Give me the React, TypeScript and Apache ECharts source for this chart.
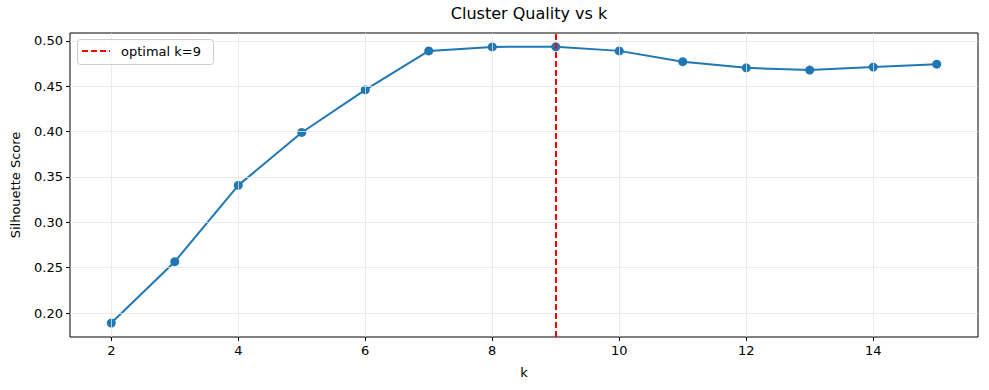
import React, { useEffect, useRef } from "react";
import * as echarts from "echarts";

const kValues = [2, 3, 4, 5, 6, 7, 8, 9, 10, 11, 12, 13, 14, 15];
const silhouette = [0.189, 0.2566, 0.3407, 0.399, 0.446, 0.4888, 0.4933, 0.4934, 0.4889, 0.477, 0.4702, 0.4678, 0.4711, 0.4742];
const xTicks = [2, 4, 6, 8, 10, 12, 14];
const yTicks = [0.2, 0.25, 0.3, 0.35, 0.4, 0.45, 0.5];
const optimalK = 9;
const titleText = "Cluster Quality vs k";
const legendText = "optimal k=9";

const FONT = "DejaVu Sans";

export default function App() {
  const ref = useRef<HTMLDivElement>(null);
  useEffect(() => {
    if (!ref.current) return;
    const chart = echarts.init(ref.current, null, { renderer: "svg" });
    const gridColor = "#e6e6e6";
    chart.setOption({
      animation: false,
      backgroundColor: "#fff",
      textStyle: { fontFamily: FONT },
      title: {
        text: titleText,
        left: 524,
        textAlign: "center",
        top: 0,
        textStyle: { fontFamily: FONT, fontSize: 16, fontWeight: "normal", color: "#000" },
      },
      grid: {
        left: 70,
        right: 11,
        top: 33,
        bottom: 53,
        show: true,
        borderColor: "#000",
        borderWidth: 1,
        backgroundColor: "transparent",
        containLabel: false,
        outerBoundsMode: "none",
      },
      xAxis: {
        type: "value",
        min: 1.35,
        max: 15.65,
        name: "k",
        nameLocation: "middle",
        nameGap: 29,
        nameTextStyle: { fontFamily: FONT, fontSize: 13, color: "#000" },
        axisLine: { show: false },
        splitLine: { show: false },
        axisTick: { show: true, customValues: xTicks, length: 4, lineStyle: { color: "#000" } },
        axisLabel: { customValues: xTicks, fontFamily: FONT, fontSize: 13, color: "#000", margin: 7 },
      },
      yAxis: {
        type: "value",
        min: 0.1736,
        max: 0.5086,
        name: "Silhouette Score",
        nameLocation: "middle",
        nameGap: 48,
        nameTextStyle: { fontFamily: FONT, fontSize: 13, color: "#000" },
        axisLine: { show: false },
        splitLine: { show: false },
        axisTick: { show: true, customValues: yTicks, length: 4, lineStyle: { color: "#000" } },
        axisLabel: {
          customValues: yTicks,
          fontFamily: FONT,
          fontSize: 13,
          color: "#000",
          margin: 7,
          formatter: (v: number) => v.toFixed(2),
        },
      },
      series: [
        {
          type: "line",
          name: "grid",
          data: [],
          silent: true,
          z: 0,
          markLine: {
            silent: true,
            symbol: "none",
            label: { show: false },
            lineStyle: { color: gridColor, type: "solid", width: 0.8 },
            data: [
              ...xTicks.map((x) => ({ xAxis: x })),
              ...yTicks.map((y) => ({ yAxis: y })),
            ],
          },
        },
        {
          type: "line",
          name: "silhouette",
          data: kValues.map((k, i) => [k, silhouette[i]]),
          symbol: "circle",
          symbolSize: 9,
          showSymbol: true,
          itemStyle: { color: "#1f77b4", borderWidth: 0 },
          lineStyle: { color: "#1f77b4", width: 2 },
          z: 3,
        },
        {
          type: "line",
          name: legendText,
          data: [],
          z: 4,
          markLine: {
            silent: true,
            symbol: "none",
            label: { show: false },
            lineStyle: { color: "#ff0000", type: [6, 3], width: 2 },
            data: [{ xAxis: optimalK }],
          },
        },
      ],
      graphic: [
        {
          type: "rect",
          shape: { x: 77.5, y: 39.5, width: 136, height: 25, r: 3 },
          style: { fill: "rgba(255,255,255,0.8)", stroke: "#cccccc", lineWidth: 1 },
          z: 10,
        },
        {
          type: "line",
          shape: { x1: 82, y1: 51, x2: 110, y2: 51 },
          style: { stroke: "#ff0000", lineWidth: 2, lineDash: [6, 3] },
          z: 11,
        },
        {
          type: "text",
          x: 121,
          y: 51,
          style: { text: legendText, fontFamily: FONT, fontSize: 13, fill: "#000", verticalAlign: "middle", textAlign: "left" },
          z: 11,
        },
      ],
    });
    return () => chart.dispose();
  }, []);
  return <div ref={ref} style={{ width: 989, height: 390, position: "absolute", left: 0, top: 0 }} />;
}
